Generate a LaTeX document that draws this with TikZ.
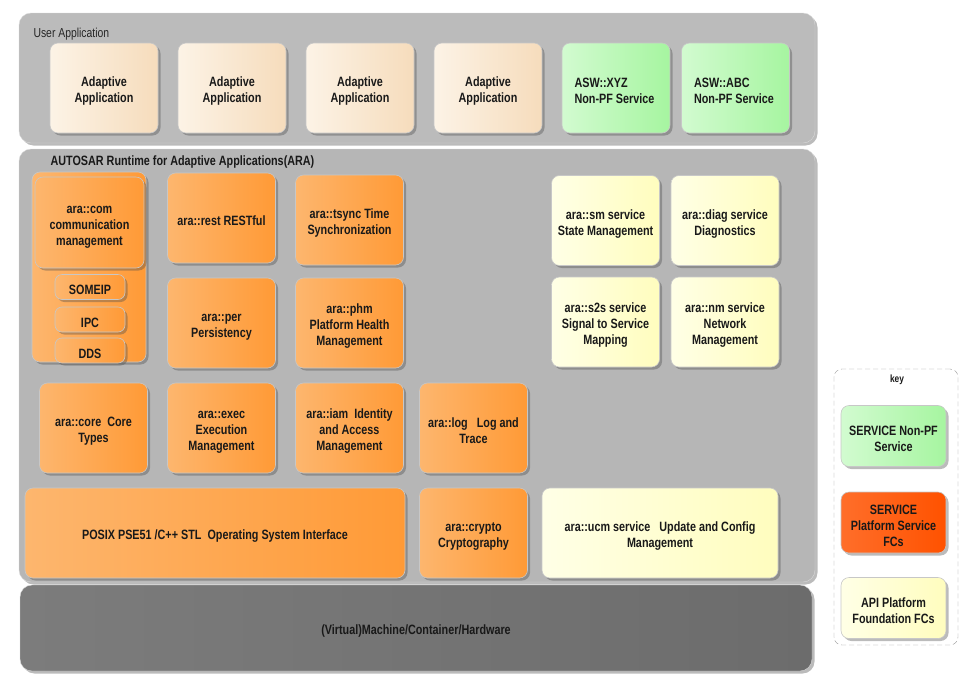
\documentclass[tikz,border=0pt]{standalone}
\usepackage{fontspec}
\setmainfont{Liberation Sans}
\newfontfamily\narrowsans[FakeStretch=0.8]{Liberation Sans}
\usetikzlibrary{shadows}

\definecolor{creamL}{HTML}{FCF3E6}
\definecolor{creamR}{HTML}{F6DCBC}
\definecolor{greenL}{HTML}{D2FBD0}
\definecolor{greenR}{HTML}{A6F5A0}
\definecolor{orangeL}{HTML}{FDB66E}
\definecolor{orangeR}{HTML}{FF9A36}
\definecolor{yellowL}{HTML}{FFFFE6}
\definecolor{yellowR}{HTML}{FFFDBE}
\definecolor{redL}{HTML}{FF6E2A}
\definecolor{redR}{HTML}{FF5200}
\definecolor{panelgray}{HTML}{BBBBBB}
\definecolor{aragray}{HTML}{B6B6B6}
\definecolor{hwL}{HTML}{7C7C7C}
\definecolor{hwR}{HTML}{6C6C6C}

\begin{document}
\begin{tikzpicture}[x=1pt,y=-1pt,
    boxfont/.style={font=\narrowsans\fontsize{13.5}{16}\selectfont\bfseries,text=black!90},
    lowtext/.style={execute at begin node={\rule{0pt}{16pt}}},
    shade/.style={drop shadow={shadow xshift=2.5pt,shadow yshift=-2.5pt,fill=black!70,opacity=0.38}},
    panel/.style={rounded corners=12pt,draw=black!15,shade},
    blk/.style={rounded corners=8pt,draw=black!22,line width=0.6pt,minimum width=108pt,minimum height=90pt,
      text width=104pt,align=flush center,inner sep=2pt,boxfont,lowtext,shade},
    appbox/.style={blk,left color=creamL,right color=creamR},
    nonpf/.style={blk,left color=greenL,right color=greenR,align=flush left,text width=83pt},
    fcbox/.style={blk,left color=orangeL,right color=orangeR},
    apibox/.style={blk,left color=yellowL,right color=yellowR},
    protobox/.style={fcbox,rounded corners=7pt,minimum width=70pt,minimum height=25pt,text width=66pt},
    keybox/.style={blk,minimum width=105pt,minimum height=61pt,text width=101pt}]
    \useasboundingbox (0,0) rectangle (976,689);

    % layers
    \node[panel,fill=panelgray,minimum width=796pt,minimum height=130pt] (userpanel) at (417,78) {};
    \node[panel,fill=aragray,minimum width=796pt,minimum height=433pt] (arapanel) at (417,365.5) {};
    \node[panel,left color=hwL,right color=hwR,minimum width=792pt,minimum height=86pt,
      text width=780pt,align=flush center,boxfont,lowtext] (hw) at (416,628) {(Virtual)Machine/Container/Hardware};
    \node[anchor=west,font=\narrowsans\fontsize{13}{14}\selectfont,text=black!85] (userlbl) at (30,34.5) {User Application};
    \node[anchor=west,boxfont] (aralbl) at (47,162) {AUTOSAR Runtime for Adaptive Applications(ARA)};

    % user applications
    \node[appbox] (app1) at (104,88) {Adaptive\\Application};
    \node[appbox] (app2) at (232,88) {Adaptive\\Application};
    \node[appbox] (app3) at (360,88) {Adaptive\\Application};
    \node[appbox] (app4) at (488,88) {Adaptive\\Application};
    \node[nonpf] (xyz) at (616,88) {ASW::XYZ\\Non-PF Service};
    \node[nonpf] (abc) at (735.5,88) {ASW::ABC\\Non-PF Service};

    % ara::com with its bindings
    \node[fcbox,minimum width=114pt,minimum height=190pt] (comgroup) at (89,267) {};
    \node[fcbox,minimum width=109pt,minimum height=91pt] (com) at (89.5,222.5) {ara::com\\communication\\management};
    \node[protobox] (someip) at (90,287) {SOMEIP};
    \node[protobox] (ipc) at (90,319.5) {IPC};
    \node[protobox] (dds) at (90,350.5) {DDS};

    % functional clusters
    \node[fcbox] (rest) at (221.5,218) {ara::rest RESTful};
    \node[fcbox] (tsync) at (349.5,220) {ara::tsync Time\\Synchronization};
    \node[fcbox] (per) at (221.5,323) {ara::per\\Persistency};
    \node[fcbox] (phm) at (349.5,323) {ara::phm\\Platform Health\\Management};
    \node[fcbox] (core) at (93.5,428) {ara::core\ \ Core\\Types};
    \node[fcbox] (exec) at (221.5,428) {ara::exec\\Execution\\Management};
    \node[fcbox] (iam) at (349.5,428) {ara::iam\ \ Identity\\and Access\\Management};
    \node[fcbox] (log) at (473.5,428) {ara::log\ \ \ Log and\\Trace};
    \node[fcbox,minimum width=380pt,text width=370pt] (posix) at (215,533) {POSIX PSE51 /C++ STL\ \ Operating System Interface};
    \node[fcbox] (crypto) at (473.5,533) {ara::crypto\\Cryptography};

    % platform services
    \node[apibox] (sm) at (605.5,220.5) {ara::sm service\\State Management};
    \node[apibox] (diag) at (725,220.5) {ara::diag service\\Diagnostics};
    \node[apibox] (s2s) at (605.5,322) {ara::s2s service\\Signal to Service\\Mapping};
    \node[apibox] (nm) at (725,322) {ara::nm service\\Network\\Management};
    \node[apibox,minimum width=236pt,text width=230pt] (ucm) at (660,533) {ara::ucm service\ \ \ Update and Config\\Management};

    % key
    \node[draw=black!40,dash pattern=on 5pt off 3pt,rounded corners=8pt,minimum width=124pt,minimum height=276pt] (keyframe) at (896,507) {};
    \node[font=\narrowsans\fontsize{10.5}{12}\selectfont\bfseries,text=black!90] (keylbl) at (897,380) {key};
    \node[keybox,left color=greenL,right color=greenR] (keynonpf) at (893.5,436) {SERVICE Non-PF\\Service};
    \node[keybox,left color=redL,right color=redR] (keypf) at (893.5,522.5) {SERVICE\\Platform Service\\FCs};
    \node[keybox,left color=yellowL,right color=yellowR] (keyapi) at (893.5,608) {API Platform\\Foundation FCs};
\end{tikzpicture}
\end{document}
